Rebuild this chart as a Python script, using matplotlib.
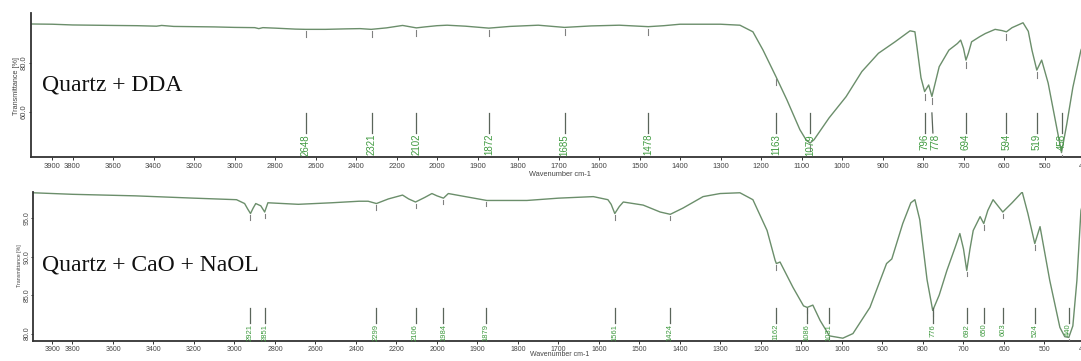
import numpy as np
import matplotlib
matplotlib.use("Agg")
import matplotlib.pyplot as plt
import matplotlib.transforms as mtransforms

# ---------------- data ----------------
# Top spectrum: Quartz + DDA
dda_wn = [4005, 3900, 3800, 3700, 3600, 3480, 3385, 3360, 3300, 3200, 3100, 3000, 2900, 2880, 2860,
          2800, 2700, 2648, 2550, 2450, 2380, 2325, 2250, 2170, 2102, 2060, 2000, 1975, 1930,
          1872, 1820, 1750, 1685, 1620, 1550, 1478, 1440, 1400, 1300, 1252, 1220, 1195, 1163,
          1136, 1104, 1089, 1079, 1069, 1032, 990, 951, 910, 869, 832, 820, 815, 805, 796, 786,
          778, 760, 736, 715, 707, 700, 694, 688, 680, 660, 646, 622, 605, 594, 580, 553, 540,
          531, 519, 507, 491, 475, 458, 445, 430, 410, 400]
dda_T = [96.0, 95.9, 95.6, 95.5, 95.4, 95.3, 95.1, 95.4, 95.0, 94.9, 94.8, 94.6, 94.5, 94.1, 94.5,
         94.3, 93.9, 93.8, 93.8, 94.0, 94.1, 93.8, 94.4, 95.4, 94.4, 94.8, 95.3, 95.5, 95.1,
         94.3, 95.0, 95.5, 94.6, 95.2, 95.5, 94.9, 95.3, 95.9, 95.9, 95.5, 92.8, 85.3, 74.4,
         64.9, 52.7, 48.6, 47.2, 48.6, 57.5, 66.2, 76.5, 84.0, 88.7, 93.2, 92.8, 86.7, 74.0, 68.3, 71.0,
         66.3, 78.5, 85.3, 88.0, 89.4, 86.0, 81.2, 84.0, 88.7, 90.8, 92.1, 93.8, 93.3, 92.8, 94.5, 96.5, 93.0,
         85.3, 77.1, 81.2, 71.8, 58.0, 43.3, 55.0, 70.0, 85.3, 89.0]
dda_peaks = [2648, 2321, 2102, 1872, 1685, 1478, 1163, 1079, 796, 778, 694, 594, 519, 458]

# Bottom spectrum: Quartz + CaO + NaOL
naol_wn = [3995, 3800, 3490, 3200, 2990, 2950, 2935, 2921, 2908, 2895, 2870, 2851, 2835, 2685,
           2520, 2385, 2340, 2299, 2240, 2170, 2140, 2106, 2060, 2025, 2000, 1984, 1972, 1930,
           1877, 1778, 1700, 1614, 1578, 1570, 1561, 1550, 1540, 1491, 1449, 1424, 1393, 1343,
           1301, 1252, 1220, 1185, 1165, 1162, 1153, 1121, 1095, 1086, 1072, 1054, 1031, 998,
           973, 931, 890, 877, 850, 830, 820, 808, 790, 776, 760, 741, 720, 709, 700, 692, 684,
           676, 659, 650, 640, 627, 615, 603, 580, 555, 541, 524, 511, 487, 462, 450, 440, 430,
           420, 410, 400]
naol_T = [98.3, 98.1, 97.9, 97.6, 97.4, 96.9, 96.2, 95.6, 96.3, 96.9, 96.6, 95.8, 97.0, 96.8,
          97.0, 97.2, 97.2, 96.9, 97.5, 98.0, 97.5, 97.1, 97.7, 98.2, 97.9, 97.6, 98.2, 97.8,
          97.3, 97.3, 97.6, 97.8, 97.4, 96.8, 95.6, 96.5, 97.1, 96.7, 95.8, 95.5, 96.3, 97.8,
          98.2, 98.3, 97.4, 93.4, 89.5, 89.1, 89.3, 86.0, 83.6, 83.4, 83.7, 81.7, 79.7, 79.4,
          80.0, 83.4, 89.1, 89.7, 94.3, 97.0, 97.4, 94.8, 87.0, 83.0, 85.0, 88.2, 91.3, 93.0, 91.0, 88.2, 91.0,
          93.4, 95.2, 94.3, 96.0, 97.4, 96.6, 95.8, 97.0, 98.4, 95.6, 91.7, 93.9, 86.9, 80.8, 79.6, 79.5, 81.0,
          86.9, 96.0, 98.0]
naol_peaks = [2921, 2851, 2299, 2106, 1984, 1879, 1561, 1424, 1162, 1086, 1031, 776, 692, 650,
              603, 524, 440]

x_ticks = [3900, 3800, 3600, 3400, 3200, 3000, 2800, 2600, 2400, 2200, 2000, 1900, 1800, 1700,
           1600, 1500, 1400, 1300, 1200, 1100, 1000, 900, 800, 700, 600, 500, 400]
top_yticks = [60.0, 80.0]
bot_yticks = [80.0, 85.0, 90.0, 95.0]

# ---------------- style ----------------
W, H = 1081, 361
CURVE = '#6b8e6b'
PEAKTXT = '#3f9a3f'
PEAKLINE = '#5a655a'
SMALLTICK = '#808080'
SPINE = '#333333'

def fwd(w):
    w = np.asarray(w, dtype=float)
    return np.where(w > 2000, 2000 + (w - 2000) * 0.5, w)

def inv(u):
    u = np.asarray(u, dtype=float)
    return np.where(u > 2000, 2000 + (u - 2000) * 2.0, u)

fig = plt.figure(figsize=(W / 100, H / 100), dpi=100)
fig.patch.set_facecolor('white')


def px_rect(left, top, right, bottom):
    return [left / W, (H - bottom) / H, (right - left) / W, (bottom - top) / H]


def setup(ax, xlim, ylim, yticks, tick_fs, ylen, ypad):
    ax.set_xscale('function', functions=(fwd, inv))
    ax.set_xlim(*xlim)
    ax.set_ylim(*ylim)
    for s in ['top', 'right']:
        ax.spines[s].set_visible(False)
    for s in ['left', 'bottom']:
        ax.spines[s].set_color(SPINE)
        ax.spines[s].set_linewidth(1.3)
    ax.set_xticks(x_ticks)
    ax.set_xticklabels([str(t) for t in x_ticks], fontsize=tick_fs, color='#444444',
                       family='Liberation Sans')
    ax.xaxis.set_minor_locator(matplotlib.ticker.NullLocator())
    ax.set_yticks(yticks)
    ax.set_yticklabels([f"{v:.1f}" for v in yticks], fontsize=tick_fs, color='#444444',
                       family='Liberation Sans', rotation=90, va='center')
    ax.tick_params(axis='x', length=2.5, width=0.7, color=SPINE, pad=1.5)
    ax.tick_params(axis='y', length=ylen, width=0.7, color=SPINE, pad=ypad)
    ax.patch.set_alpha(0)


def draw_peaks(ax, wn, T, peaks, ax_h_px, gap_px, len_px, line_top, line_bot, text_top, fs,
               shifts):
    yr = ax.get_ylim()[1] - ax.get_ylim()[0]
    per_px = yr / ax_h_px
    order = np.argsort(wn)
    wn_s = np.asarray(wn, float)[order]
    T_s = np.asarray(T, float)[order]
    trans = mtransforms.blended_transform_factory(ax.transData, ax.transAxes)
    for p in peaks:
        yc = np.interp(p, wn_s, T_s)
        ax.plot([p, p], [yc - gap_px * per_px, yc - (gap_px + len_px) * per_px],
                color=SMALLTICK, lw=0.8, zorder=3)
        xs = shifts.get(p, 0)
        ax.plot([p, p - xs * 0.3], [line_top, line_bot], color=PEAKLINE, lw=0.9,
                transform=trans, zorder=3)
        ax.text(p - xs, text_top, str(p), rotation=90, ha='center', va='top', fontsize=fs,
                color=PEAKTXT, family='Liberation Sans', transform=trans, zorder=4)


# ---------- top panel ----------
ax1 = fig.add_axes(px_rect(31, 13, 1085, 157))
setup(ax1, (4005, 400), (41.5, 100.5), top_yticks, 5.5, 1.5, 0.8)
ax1.plot(dda_wn, dda_T, color=CURVE, lw=1.0, zorder=2)
draw_peaks(ax1, dda_wn, dda_T, dda_peaks, 144, 2, 6, 0.306, 0.167, 0.16, 7, {778: 8})
fig.text(42 / W, 1 - 85 / H, 'Quartz + DDA', fontsize=17, family='Liberation Serif',
         ha='left', va='center', color='#111111')
fig.text(16 / W, 1 - 86 / H, 'Transmittance [%]', fontsize=5.2, rotation=90,
         family='Liberation Sans', ha='center', va='center', color='#444444')
fig.text(560 / W, 1 - 174 / H, 'Wavenumber cm-1', fontsize=5.3, family='Liberation Sans',
         ha='center', va='center', color='#444444')

# ---------- bottom panel ----------
ax2 = fig.add_axes(px_rect(33, 192, 1085, 340.5))
setup(ax2, (3995, 400), (79.1, 98.4), bot_yticks, 5.0, 1.2, 0.6)
ax2.plot(naol_wn, naol_T, color=CURVE, lw=1.0, zorder=2)
draw_peaks(ax2, naol_wn, naol_T, naol_peaks, 148.5, 1.5, 4.5, 0.216, 0.118, 0.112, 5.5, {})
fig.text(42 / W, 1 - 265 / H, 'Quartz + CaO + NaOL', fontsize=17, family='Liberation Serif',
         ha='left', va='center', color='#111111')
fig.text(19 / W, 1 - 266 / H, 'Transmittance [%]', fontsize=3.8, rotation=90,
         family='Liberation Sans', ha='center', va='center', color='#444444')
fig.text(560 / W, 1 - 355 / H, 'Wavenumber cm-1', fontsize=5.0, family='Liberation Sans',
         ha='center', va='center', color='#444444')

fig.savefig('out.png', dpi=100)
